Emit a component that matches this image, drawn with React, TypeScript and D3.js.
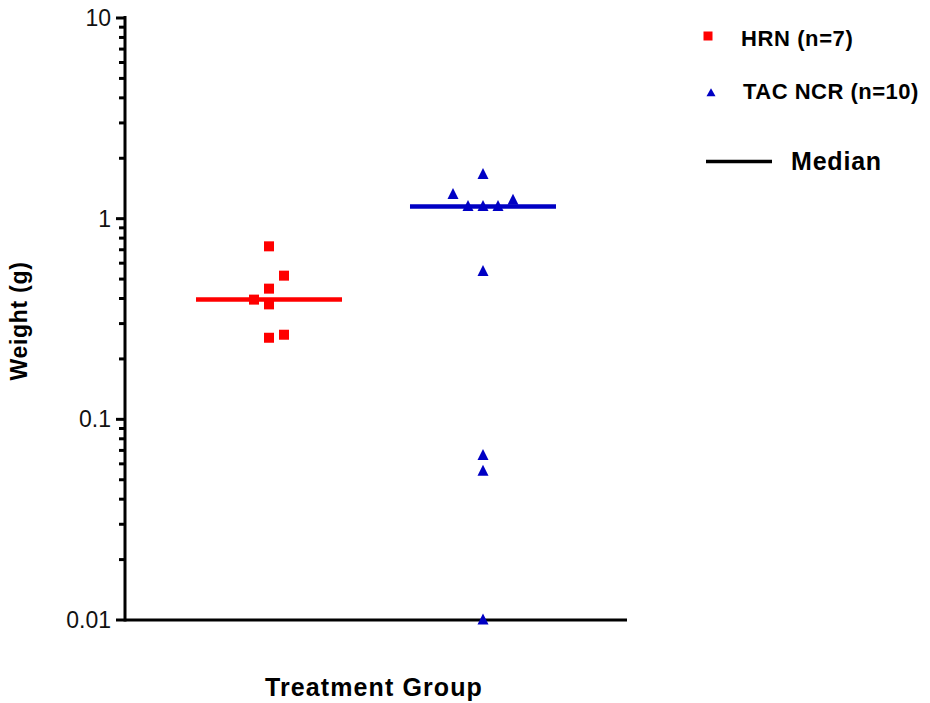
import React from "react";
import * as d3 from "d3";

const groups = ["HRN", "TAC NCR"];
const hrnWeights = [0.728, 0.52, 0.448, 0.395, 0.374, 0.255, 0.264];
const hrnColumns = [0, 1, 0, -1, 0, 0, 1];
const tacWeights = [1.66, 1.317, 1.15, 1.15, 1.15, 1.234, 0.545, 0.066, 0.055, 0.01];
const tacColumns = [0, -2, -1, 0, 1, 2, 0, 0, 0, 0];
const yTickLabels = ["0.01", "0.1", "1", "10"];
const legendLabels = ["HRN (n=7)", "TAC NCR (n=10)", "Median"];

const W = 930;
const H = 703;
const FONT = "'Liberation Sans', Arial, Helvetica, sans-serif";

export default function App() {
  const left = 125, right = 627, top = 18, bottom = 620;
  const x = d3.scalePoint<string>().domain(groups).range([left, right]).padding(0.673);
  const y = d3.scaleLog().domain([0.01, 10]).range([bottom, top]);
  const colStep = 15;
  const half = 73;

  const series = [
    { name: groups[0], values: hrnWeights, cols: hrnColumns, color: "#FF0000", shape: "square" },
    { name: groups[1], values: tacWeights, cols: tacColumns, color: "#0000C4", shape: "triangle" },
  ];

  const ticks = y.ticks();
  const isMajor = (t: number) => Math.abs(Math.log10(t) - Math.round(Math.log10(t))) < 1e-9;

  const marker = (shape: string, cx: number, cy: number, color: string, w: number, h: number, key?: any) => {
    if (shape === "square") {
      return <rect key={key} x={cx - w / 2} y={cy - h / 2} width={w} height={h} fill={color} />;
    }
    const p = d3.path();
    p.moveTo(cx, cy - h * 0.6);
    p.lineTo(cx + w / 2, cy + h * 0.4);
    p.lineTo(cx - w / 2, cy + h * 0.4);
    p.closePath();
    return <path key={key} d={p.toString()} fill={color} />;
  };

  return (
    <svg width={W} height={H} style={{ position: "absolute", left: 0, top: 0, background: "#fff" }}>
      <rect width={W} height={H} fill="#fff" />
      {/* ticks */}
      {ticks.map((t, i) => (
        <line key={"t" + i} x1={left - (isMajor(t) ? 9 : 6)} x2={left} y1={y(t)} y2={y(t)} stroke="#000" strokeWidth={3} />
      ))}
      {yTickLabels.map((l, i) => (
        <text key={"l" + i} x={111} y={y(+l)} textAnchor="end" dominantBaseline="central" fontFamily={FONT} fontSize={23} fill="#111">
          {l}
        </text>
      ))}
      {/* axes */}
      <line x1={left} x2={left} y1={top - 2} y2={bottom + 1.5} stroke="#000" strokeWidth={3} />
      <line x1={left} x2={right} y1={bottom} y2={bottom} stroke="#000" strokeWidth={3} />
      {/* medians */}
      {series.map((s) => {
        const cx = x(s.name)!;
        const m = d3.median(s.values)!;
        return <line key={"m" + s.name} x1={cx - half} x2={cx + half} y1={y(m)} y2={y(m)} stroke={s.color} strokeWidth={4.5} />;
      })}
      {/* points */}
      {series.map((s) =>
        s.values.map((v, i) => marker(s.shape, x(s.name)! + s.cols[i] * colStep, y(v), s.color, s.shape === "square" ? 10 : 11, s.shape === "square" ? 10 : 11, s.name + i))
      )}
      {/* axis titles */}
      <text x={374} y={687} textAnchor="middle" dominantBaseline="central" fontFamily={FONT} fontWeight="bold" fontSize={25} letterSpacing={1.1} fill="#000">
        Treatment Group
      </text>
      <text transform="translate(19,321) rotate(-90)" textAnchor="middle" dominantBaseline="central" fontFamily={FONT} fontWeight="bold" fontSize={23} letterSpacing={0.7} fill="#000">
        Weight (g)
      </text>
      {/* legend */}
      {marker("square", 708, 36, "#FF0000", 9, 9)}
      <text x={741} y={38} dominantBaseline="central" fontFamily={FONT} fontWeight="bold" fontSize={22} letterSpacing={0.6} fill="#000">
        {legendLabels[0]}
      </text>
      {marker("triangle", 711, 93, "#0000C4", 9, 8)}
      <text x={743} y={91} dominantBaseline="central" fontFamily={FONT} fontWeight="bold" fontSize={22} letterSpacing={0.5} fill="#000">
        {legendLabels[1]}
      </text>
      <line x1={706} x2={772} y1={161.5} y2={161.5} stroke="#000" strokeWidth={3.5} />
      <text x={791} y={161} dominantBaseline="central" fontFamily={FONT} fontWeight="bold" fontSize={25} letterSpacing={0.8} fill="#000">
        {legendLabels[2]}
      </text>
    </svg>
  );
}
